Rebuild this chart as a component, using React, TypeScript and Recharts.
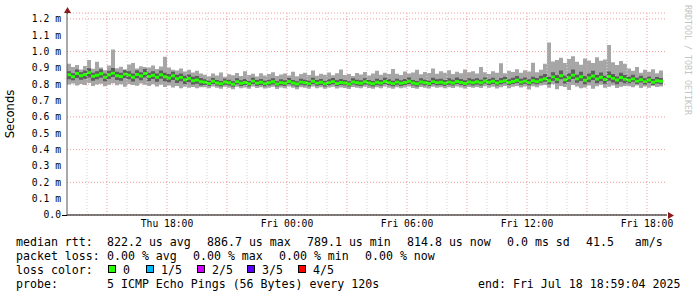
import { ComposedChart, Area, XAxis, YAxis, CartesianGrid, ReferenceLine } from 'recharts';

// SmokePing style latency graph, 30 h window starting Thu 13:00, one sample every 12 min
const START_HOUR = 0;
const STEP_HOURS = 0.2;

// values in microseconds
const MEDIAN = [
  858, 846, 866, 852, 860, 871, 849, 855, 864, 843, 858, 868, 852, 847, 862, 856, 843, 860, 851, 866, 848,
  855, 843, 858, 846, 838, 852, 834, 842, 828, 836, 822, 826, 815,
  812, 805, 818, 808, 803, 814, 809, 800, 816, 806, 811, 803, 819, 807, 812, 804, 809, 815, 802, 810,
  806, 817, 808, 801, 813, 809, 804, 818, 807, 812, 803, 810, 816, 805, 811, 808, 802, 814, 809, 806,
  815, 808, 803, 812, 807, 817, 810, 804, 813, 806, 811, 818, 808, 803, 814, 809, 805, 816, 810, 812,
  806, 813, 808, 817, 811, 805, 814, 809,
  815, 809, 820, 812, 818, 808, 816, 822, 811, 817, 825, 813, 819, 810, 821, 816, 826,
  834, 822, 845, 830, 852, 828, 840, 856, 833, 846, 824, 838, 850, 832, 843, 829, 847, 836, 826, 841, 831,
  824, 833, 819, 828, 816, 826, 812, 822, 818, 825,
];

const PING_MIN = [
  798, 805, 792, 801, 796, 808, 790, 799, 803, 788, 797, 806, 794, 800, 785, 802, 795, 791, 804, 797, 789,
  800, 786, 797, 783, 792, 780, 789, 776, 785, 779, 783, 775, 781,
  782, 776, 786, 779, 772, 784, 778, 770, 785, 776, 780, 773, 787, 777, 781, 774, 779, 784, 771, 780,
  775, 786, 778, 770, 782, 779, 773, 787, 776, 781, 772, 780, 785, 774, 780, 777, 771, 783, 778, 775,
  784, 777, 772, 781, 776, 786, 779, 773, 782, 775, 780, 787, 777, 772, 783, 778, 774, 785, 779, 781,
  775, 782, 777, 786, 780, 774, 783, 778,
  783, 777, 788, 779, 785, 774, 782, 789, 776, 784, 790, 780, 786, 768, 788, 781, 792,
  795, 778, 800, 770, 790, 783, 765, 796, 786, 775, 780, 793, 772, 788, 797, 779, 785, 792, 777, 784, 790,
  788, 781, 792, 777, 786, 779, 790, 783, 787, 792,
];

const PING_LOW = [
  830, 825, 838, 828, 834, 842, 822, 831, 840, 818, 832, 845, 826, 821, 838, 830, 817, 836, 824, 842, 820,
  832, 816, 834, 818, 812, 826, 808, 818, 802, 812, 798, 803, 792,
  796, 789, 801, 792, 787, 797, 793, 785, 800, 790, 795, 787, 802, 791, 796, 788, 793, 799, 786, 794,
  790, 801, 792, 785, 797, 793, 788, 802, 791, 796, 787, 794, 800, 789, 795, 792, 786, 798, 793, 790,
  799, 792, 787, 796, 791, 801, 794, 788, 797, 790, 795, 802, 792, 787, 798, 793, 789, 800, 794, 796,
  790, 797, 792, 801, 795, 789, 798, 793,
  799, 793, 804, 796, 802, 792, 800, 806, 795, 801, 808, 797, 803, 794, 805, 800, 809,
  815, 800, 822, 806, 830, 804, 815, 832, 809, 820, 800, 813, 826, 806, 818, 803, 822, 810, 800, 816, 806,
  806, 815, 801, 810, 798, 808, 795, 804, 800, 807,
];

const PING_HIGH = [
  880, 868, 890, 874, 884, 898, 870, 880, 892, 866, 882, 900, 876, 870, 888, 880, 866, 886, 874, 893, 870,
  880, 866, 884, 870, 862, 876, 858, 866, 852, 860, 846, 850, 838,
  830, 822, 838, 826, 820, 834, 828, 818, 836, 824, 832, 820, 840, 826, 832, 822, 828, 836, 818, 830,
  824, 838, 826, 818, 834, 828, 822, 840, 826, 832, 820, 830, 838, 824, 832, 826, 818, 836, 828, 824,
  836, 826, 820, 834, 826, 840, 830, 822, 834, 824, 832, 842, 826, 820, 836, 828, 822, 840, 830, 834,
  826, 836, 828, 842, 832, 824, 836, 830,
  836, 828, 842, 832, 840, 826, 838, 846, 830, 840, 850, 834, 842, 830, 846, 838, 852,
  862, 846, 874, 856, 884, 852, 868, 890, 858, 876, 850, 866, 882, 856, 872, 852, 878, 862, 848, 870, 856,
  846, 858, 840, 852, 836, 848, 832, 844, 838, 848,
];

const PING_MAX = [
  925, 905, 918, 890, 912, 948, 895, 938, 902, 886, 915, 1012, 898, 907, 889, 921, 930, 896, 910, 905, 902,
  915, 893, 908, 968, 902, 889, 884, 897, 878, 889, 872, 883, 866,
  858, 849, 866, 853, 872, 846, 861, 855, 869, 850, 880, 857, 864, 848, 868, 854, 862, 874, 851, 859,
  866, 853, 877, 849, 862, 870, 856, 884, 852, 865, 858, 872, 855, 868, 890, 857, 863, 851, 869, 860,
  875, 854, 866, 882, 858, 870, 862, 893, 865, 857, 878, 866, 872, 888, 861, 875, 869, 896, 864, 880,
  871, 885, 862, 876, 868, 890, 873, 879,
  866, 905, 874, 862, 880, 871, 929, 868, 883, 875, 892, 870, 886, 878, 932, 874, 888,
  925, 1055, 940, 948, 962, 930, 955, 972, 938, 920, 958, 945, 930, 965, 944, 952, 1040, 935, 918, 942, 925,
  896, 882, 905, 870, 888, 876, 892, 868, 884, 872,
];

const TICK_HOURS = [5, 11, 17, 23, 29];
const TICK_LABELS = ['Thu 18:00', 'Fri 00:00', 'Fri 06:00', 'Fri 12:00', 'Fri 18:00'];
const Y_TICKS = [0, 0.1, 0.2, 0.3, 0.4, 0.5, 0.6, 0.7, 0.8, 0.9, 1.0, 1.1, 1.2];
const MAJOR_HOURS = [2, 5, 8, 11, 14, 17, 20, 23, 26, 29];
const MINOR_HOURS = [1, 3, 4, 6, 7, 9, 10, 12, 13, 15, 16, 18, 19, 21, 22, 24, 25, 27, 28];

const LOSS_LABELS = ['0', '1/5', '2/5', '3/5', '4/5'];
const LOSS_COLORS = ['#26ff00', '#00b8ff', '#d200ff', '#5a00ff', '#ff0000'];

const MEDIAN_HALF = 9; // half thickness of the median band, us

const rows = MEDIAN.map((m, i) => ({
  t: START_HOUR + i * STEP_HOURS,
  outer: [PING_MIN[i] / 1000, PING_MAX[i] / 1000],
  inner: [PING_LOW[i] / 1000, PING_HIGH[i] / 1000],
  median: [(m - MEDIAN_HALF) / 1000, (m + MEDIAN_HALF) / 1000],
}));

const MONO = '"DejaVu Sans Mono", monospace';
const tickStyle = { fontFamily: MONO, fontSize: 9.7, fill: '#000' };

function Txt({ x, y, children }: { x: number; y: number; children: React.ReactNode }) {
  return (
    <div
      style={{
        position: 'absolute',
        left: x,
        top: y - 7,
        lineHeight: '14px',
        fontSize: 11.6,
        fontFamily: MONO,
        whiteSpace: 'pre',
        color: '#000',
      }}
    >
      {children}
    </div>
  );
}

// legend swatch positions
const swatchX = [108, 146, 197, 247, 298];

export default function App() {
  return (
    <div style={{ position: 'absolute', left: 0, top: 0, width: 697, height: 297, background: '#fff' }}>
      <ComposedChart width={697} height={297} data={rows} margin={{ top: 13, right: 30, bottom: 62, left: 17 }}>
        <CartesianGrid vertical={false} stroke="#ef9a9a" strokeDasharray="1 2" />
        {MINOR_HOURS.map((h) => (
          <ReferenceLine key={'mi' + h} x={h} stroke="#d4d4d4" strokeDasharray="1 2" />
        ))}
        {MAJOR_HOURS.map((h) => (
          <ReferenceLine key={'ma' + h} x={h} stroke="#ef9a9a" strokeDasharray="1 2" />
        ))}
        <XAxis
          dataKey="t"
          type="number"
          domain={[0, 30]}
          ticks={TICK_HOURS}
          tickFormatter={(h: number) => TICK_LABELS[TICK_HOURS.indexOf(h)]}
          height={20}
          tickLine={false}
          tickSize={3}
          tickMargin={2}
          axisLine={{ stroke: '#000' }}
          tick={tickStyle}
          allowDataOverflow
        />
        <YAxis
          type="number"
          domain={[0, 1.236]}
          ticks={Y_TICKS}
          tickFormatter={(v: number) => (v === 0 ? '0.0' : `${v.toFixed(1)} m`)}
          width={50}
          tickLine={false}
          tickSize={4}
          tickMargin={2}
          axisLine={{ stroke: '#555' }}
          tick={tickStyle}
          allowDataOverflow
        />
        <Area
          dataKey="outer"
          type="stepAfter"
          stroke="none"
          fill="#a6a6a6"
          fillOpacity={1}
          dot={false}
          activeDot={false}
          isAnimationActive={false}
        />
        <Area
          dataKey="inner"
          type="stepAfter"
          stroke="none"
          fill="#5e5e5e"
          fillOpacity={1}
          dot={false}
          activeDot={false}
          isAnimationActive={false}
        />
        <Area
          dataKey="median"
          type="stepAfter"
          stroke="none"
          fill="#26ff00"
          fillOpacity={1}
          dot={false}
          activeDot={false}
          isAnimationActive={false}
        />
      </ComposedChart>

      <svg width={697} height={297} style={{ position: 'absolute', left: 0, top: 0, pointerEvents: 'none' }}>
        <line x1={62} y1={215.5} x2={67} y2={215.5} stroke="#000" />
        <line x1={67.5} y1={9} x2={67.5} y2={14} stroke="#555" />
        <polygon points="64,13 71,13 67.5,7" fill="#8b1c1c" />
        <polygon points="668,212 668,219 674,215.5" fill="#8b1c1c" />
        <text
          x={10}
          y={114}
          transform="rotate(-90 10 114)"
          textAnchor="middle"
          dominantBaseline="central"
          fontFamily='"DejaVu Sans", sans-serif'
          fontSize={11.6}
          fill="#000"
        >
          Seconds
        </text>
        <text
          x={688}
          y={5}
          transform="rotate(90 688 5)"
          textAnchor="start"
          dominantBaseline="central"
          fontFamily={MONO}
          fontSize={8.3}
          fill="#c4c4c4"
        >
          RRDTOOL / TOBI OETIKER
        </text>
      </svg>

      <Txt x={16} y={241.5}>median rtt:</Txt>
      <Txt x={107} y={241.5}>822.2 us avg</Txt>
      <Txt x={207} y={241.5}>886.7 us max</Txt>
      <Txt x={307} y={241.5}>789.1 us min</Txt>
      <Txt x={407} y={241.5}>814.8 us now</Txt>
      <Txt x={507} y={241.5}>0.0 ms sd</Txt>
      <Txt x={586} y={241.5}>41.5   am/s</Txt>

      <Txt x={16} y={255.5}>packet loss:</Txt>
      <Txt x={107} y={255.5}>0.00 % avg</Txt>
      <Txt x={193} y={255.5}>0.00 % max</Txt>
      <Txt x={279} y={255.5}>0.00 % min</Txt>
      <Txt x={365} y={255.5}>0.00 % now</Txt>

      <Txt x={16} y={269.5}>loss color:</Txt>
      {LOSS_LABELS.map((label, i) => (
        <div key={label}>
          <div
            style={{
              position: 'absolute',
              left: swatchX[i],
              top: 265,
              width: 8,
              height: 8,
              boxSizing: 'border-box',
              border: '1px solid #000',
              background: LOSS_COLORS[i],
            }}
          />
          <Txt x={swatchX[i] + 15} y={269.5}>{label}</Txt>
        </div>
      ))}

      <Txt x={16} y={283.5}>probe:</Txt>
      <Txt x={107} y={283.5}>5 ICMP Echo Pings (56 Bytes) every 120s</Txt>
      <Txt x={478} y={283.5}>end: Fri Jul 18 18:59:04 2025</Txt>
    </div>
  );
}
